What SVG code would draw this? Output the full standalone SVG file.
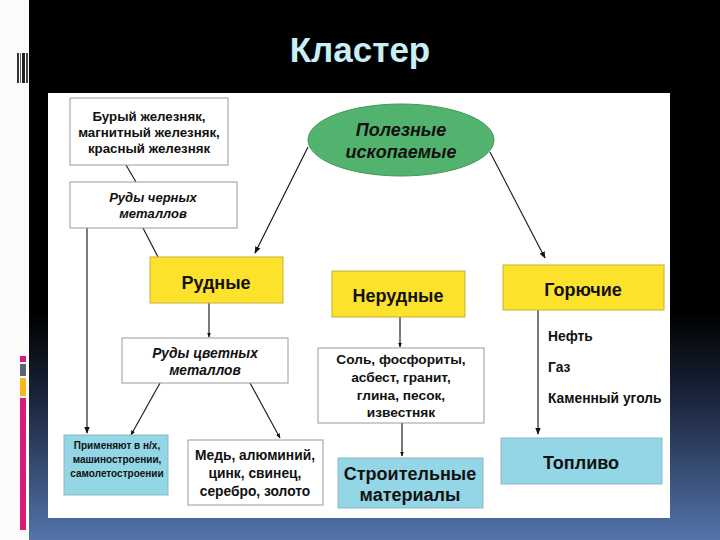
<svg xmlns="http://www.w3.org/2000/svg" width="720" height="540" viewBox="0 0 720 540">
<defs>
<linearGradient id="bg" x1="0" y1="0" x2="0" y2="1">
<stop offset="0" stop-color="#000"/>
<stop offset="0.58" stop-color="#000"/>
<stop offset="0.75" stop-color="#1c2840"/>
<stop offset="1" stop-color="#5474aa"/>
</linearGradient>
<marker id="ah" viewBox="0 0 10 10" refX="9" refY="5" markerWidth="7" markerHeight="7" orient="auto" markerUnits="userSpaceOnUse">
<path d="M0,1 L10,5 L0,9 Z" fill="#111"/>
</marker>
<marker id="ahs" viewBox="0 0 10 10" refX="9" refY="5" markerWidth="5" markerHeight="5" orient="auto" markerUnits="userSpaceOnUse">
<path d="M0,1 L10,5 L0,9 Z" fill="#111"/>
</marker>
</defs>
<style>
.t{font-family:"Liberation Sans",Arial,sans-serif;font-weight:bold;fill:#111;text-anchor:middle}
.i{font-style:italic}
.wb{fill:#fff;stroke:#9a9a9a;stroke-width:1}
.yb{fill:#fde22c;stroke:#c8b030;stroke-width:1}
.bb{fill:#93d6e6;stroke:#8fb8c4;stroke-width:1}
.c{stroke:#222;stroke-width:1.2;fill:none}
</style>
<rect x="0" y="0" width="720" height="540" fill="#fbfbfb"/>
<rect x="29" y="0" width="691" height="540" fill="url(#bg)"/>
<g id="decor">
<rect x="17" y="53" width="2" height="30" fill="#333"/>
<rect x="20" y="53" width="1" height="30" fill="#666"/>
<rect x="22" y="53" width="3" height="30" fill="#222"/>
<rect x="26" y="53" width="2" height="30" fill="#444"/>
<rect x="20" y="356" width="6" height="6" fill="#d81b7a"/>
<rect x="20" y="364" width="6" height="12" fill="#5a6470"/>
<rect x="20" y="378" width="6" height="18" fill="#f5b820"/>
<rect x="20" y="398" width="6" height="132" fill="#d81b7a"/>
</g>
<text x="360" y="62" style="font-family:'Liberation Sans',Arial,sans-serif;font-weight:bold;font-size:35px;fill:#c8eef8;text-anchor:middle">Кластер</text>
<rect x="48" y="93" width="622" height="425" fill="#fff"/>
<g id="connectors">
<line class="c" x1="126" y1="165" x2="136" y2="182"/>
<line class="c" x1="143" y1="228" x2="158" y2="257"/>
<line class="c" x1="87" y1="228" x2="87" y2="433" marker-end="url(#ah)" stroke-width="1.5"/>
<line class="c" x1="308" y1="147" x2="255" y2="253" marker-end="url(#ah)"/>
<line class="c" x1="490" y1="152" x2="545" y2="258" marker-end="url(#ah)"/>
<line class="c" x1="209" y1="303" x2="209" y2="337" marker-end="url(#ahs)"/>
<line class="c" x1="160" y1="383" x2="131" y2="435" marker-end="url(#ahs)"/>
<line class="c" x1="250" y1="383" x2="280" y2="438" marker-end="url(#ahs)"/>
<line class="c" x1="400" y1="317" x2="400" y2="347" marker-end="url(#ahs)"/>
<line class="c" x1="402" y1="423" x2="402" y2="456" marker-end="url(#ahs)"/>
<line class="c" x1="538" y1="310" x2="538" y2="434" marker-end="url(#ah)" stroke-width="1.5"/>
</g>
<g id="n_buryi">
<rect class="wb" x="70" y="98" width="158" height="67"/>
<text class="t" font-size="13.3"><tspan x="149" y="121">Бурый железняк,</tspan><tspan x="149" y="137">магнитный железняк,</tspan><tspan x="149" y="153">красный железняк</tspan></text>
</g>
<g id="n_chern">
<rect class="wb" x="70" y="182" width="167" height="46"/>
<text class="t i" font-size="13"><tspan x="153" y="202">Руды черных</tspan><tspan x="153" y="218">металлов</tspan></text>
</g>
<g id="n_root">
<ellipse cx="401" cy="140" rx="93" ry="36" fill="#52b36e" stroke="#3e9a5a" stroke-width="1"/>
<text class="t i" font-size="18"><tspan x="401" y="136">Полезные</tspan><tspan x="401" y="158">ископаемые</tspan></text>
</g>
<g id="n_rudnye">
<rect class="yb" x="150" y="257" width="133" height="46"/>
<text class="t" x="216" y="289" font-size="18">Рудные</text>
</g>
<g id="n_nerudnye">
<rect class="yb" x="332" y="271" width="133" height="46"/>
<text class="t" x="398" y="302" font-size="18">Нерудные</text>
</g>
<g id="n_goruchie">
<rect class="yb" x="503" y="265" width="161" height="45"/>
<text class="t" x="583" y="296" font-size="18">Горючие</text>
</g>
<g id="n_cvet">
<rect class="wb" x="122" y="338" width="166" height="45"/>
<text class="t i" font-size="13.8"><tspan x="205" y="358">Руды цветных</tspan><tspan x="205" y="375">металлов</tspan></text>
</g>
<g id="n_sol">
<rect class="wb" x="318" y="348" width="166" height="75"/>
<text class="t" font-size="13.7"><tspan x="401" y="364">Соль, фосфориты,</tspan><tspan x="401" y="382">асбест, гранит,</tspan><tspan x="401" y="400">глина, песок,</tspan><tspan x="401" y="417">известняк</tspan></text>
</g>
<g id="n_fuel_list">
<text class="t" font-size="13.8" style="text-anchor:start"><tspan x="548" y="341">Нефть</tspan><tspan x="548" y="372">Газ</tspan><tspan x="548" y="403">Каменный уголь</tspan></text>
</g>
<g id="n_primen">
<rect class="bb" x="64" y="435" width="104" height="60"/>
<text class="t" font-size="10"><tspan x="117" y="449">Применяют в н/х,</tspan><tspan x="117" y="463">машиностроении,</tspan><tspan x="117" y="477">самолетостроении</tspan></text>
</g>
<g id="n_med">
<rect class="wb" x="188" y="440" width="135" height="65"/>
<text class="t" font-size="13.8"><tspan x="255" y="460">Медь, алюминий,</tspan><tspan x="255" y="478">цинк, свинец,</tspan><tspan x="255" y="496">серебро, золото</tspan></text>
</g>
<g id="n_stroit">
<rect class="bb" x="338" y="458" width="145" height="50"/>
<text class="t" font-size="18"><tspan x="410" y="480">Строительные</tspan><tspan x="410" y="501">материалы</tspan></text>
</g>
<g id="n_toplivo">
<rect class="bb" x="501" y="438" width="161" height="46"/>
<text class="t" x="581" y="469" font-size="18">Топливо</text>
</g>
</svg>
